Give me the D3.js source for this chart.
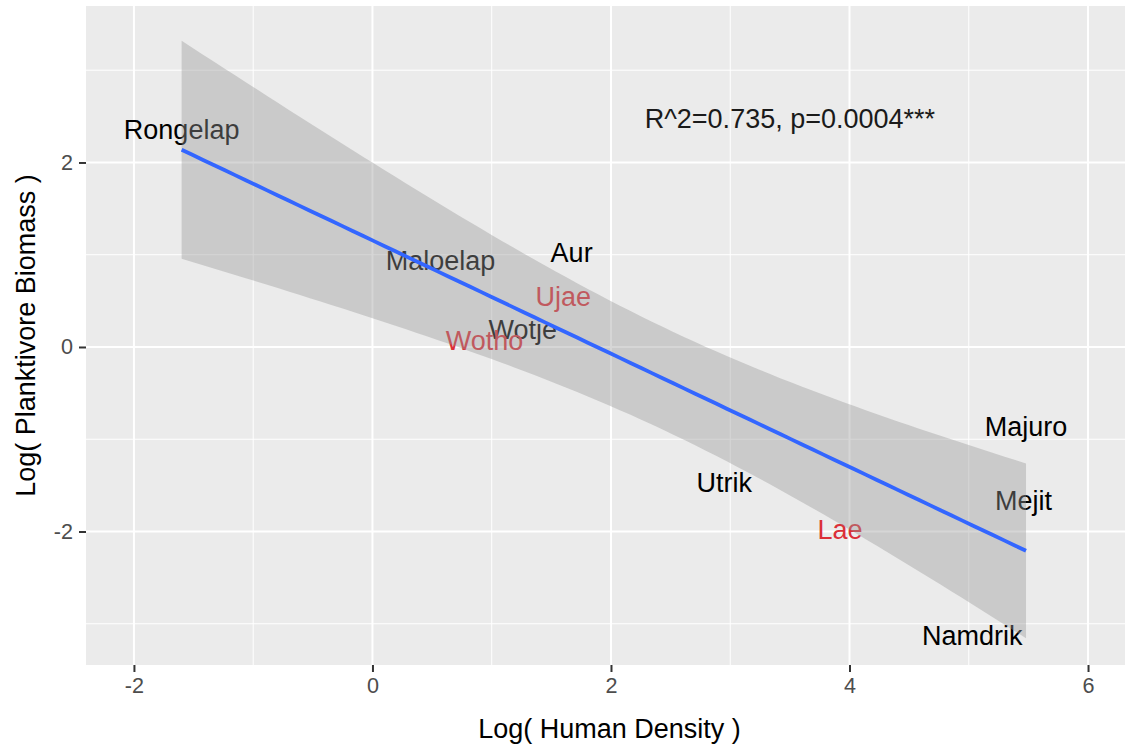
<!DOCTYPE html>
<html>
<head>
<meta charset="utf-8">
<script src="https://cdn.jsdelivr.net/npm/d3@7"></script>
<style>
  html, body { margin: 0; padding: 0; background: #fff; }
  svg { display: block; font-family: "Liberation Sans", Arial, sans-serif; }
</style>
</head>
<body>
<svg id="chart" width="1127" height="748"></svg>
<script>
// ---- data ----
const atolls   = ["Rongelap","Maloelap","Aur","Ujae","Wotje","Wotho","Majuro","Mejit","Utrik","Lae","Namdrik"];
const humanDen = [-1.60, 0.57, 1.67, 1.60, 1.26, 0.94, 5.48, 5.46, 2.95, 3.92, 5.03];
const biomass  = [ 2.35, 0.93, 1.02, 0.54, 0.18, 0.06, -0.87, -1.67, -1.47, -1.98, -3.13];
const labelGroup = ["black","black","black","red","black","red","black","black","black","red","black"];
const xTicks = [-2, 0, 2, 4, 6];
const yTicks = [-2, 0, 2];
const xMinor = [-1, 1, 3, 5];
const yMinor = [-3, -1, 1, 3];
const statText = "R^2=0.735, p=0.0004***";
const statPos = [3.5, 2.47];
const tCrit = 2.262; // t(0.975, df = 9)

// ---- layout ----
const svg = d3.select("#chart");
const P = {left: 86, right: 1125, top: 6, bottom: 665};
const x = d3.scaleLinear().domain([-2.402, 6.31]).range([P.left, P.right]);
const y = d3.scaleLinear().domain([-3.447, 3.696]).range([P.bottom, P.top]);
const colorMap = {black: "#000000", red: "#DB2F38"};

// panel background
svg.append("rect").attr("x", P.left).attr("y", P.top)
  .attr("width", P.right - P.left).attr("height", P.bottom - P.top)
  .attr("fill", "#EBEBEB");

const grid = svg.append("g");
grid.selectAll(".xmin").data(xMinor).join("line")
  .attr("x1", d => x(d)).attr("x2", d => x(d)).attr("y1", P.top).attr("y2", P.bottom)
  .attr("stroke", "#fff").attr("stroke-width", 1);
grid.selectAll(".ymin").data(yMinor).join("line")
  .attr("y1", d => y(d)).attr("y2", d => y(d)).attr("x1", P.left).attr("x2", P.right)
  .attr("stroke", "#fff").attr("stroke-width", 1);
grid.selectAll(".xmaj").data(xTicks).join("line")
  .attr("x1", d => x(d)).attr("x2", d => x(d)).attr("y1", P.top).attr("y2", P.bottom)
  .attr("stroke", "#fff").attr("stroke-width", 2);
grid.selectAll(".ymaj").data(yTicks).join("line")
  .attr("y1", d => y(d)).attr("y2", d => y(d)).attr("x1", P.left).attr("x2", P.right)
  .attr("stroke", "#fff").attr("stroke-width", 2);

// text labels (drawn under the smooth, as in ggplot layer order)
const pts = atolls.map((n, i) => ({name: n, x: humanDen[i], y: biomass[i], g: labelGroup[i]}));
svg.append("g").selectAll("text").data(pts).join("text")
  .attr("x", d => x(d.x)).attr("y", d => y(d.y))
  .attr("text-anchor", "middle").attr("dominant-baseline", "central")
  .attr("font-size", 27).attr("fill", d => colorMap[d.g])
  .text(d => d.name);

// linear fit + 95% confidence band
const n = pts.length;
const mx = d3.mean(pts, d => d.x), my = d3.mean(pts, d => d.y);
const sxx = d3.sum(pts, d => (d.x - mx) ** 2);
const sxy = d3.sum(pts, d => (d.x - mx) * (d.y - my));
const b1 = sxy / sxx, b0 = my - b1 * mx;
const sse = d3.sum(pts, d => (d.y - (b0 + b1 * d.x)) ** 2);
const s = Math.sqrt(sse / (n - 2));
const [xmin, xmax] = d3.extent(pts, d => d.x);
const grd = d3.range(80).map(i => xmin + (xmax - xmin) * i / 79);
const fit = grd.map(xv => {
  const yh = b0 + b1 * xv;
  const se = s * Math.sqrt(1 / n + (xv - mx) ** 2 / sxx);
  return {x: xv, y: yh, lo: yh - tCrit * se, hi: yh + tCrit * se};
});

svg.append("path").datum(fit)
  .attr("d", d3.area().x(d => x(d.x)).y0(d => y(d.lo)).y1(d => y(d.hi)))
  .attr("fill", "#999999").attr("fill-opacity", 0.4);
svg.append("path").datum(fit)
  .attr("d", d3.line().x(d => x(d.x)).y(d => y(d.y)))
  .attr("fill", "none").attr("stroke", "#3366FF").attr("stroke-width", 3.8);

// annotation
svg.append("text").attr("x", x(statPos[0])).attr("y", y(statPos[1]))
  .attr("text-anchor", "middle").attr("dominant-baseline", "central")
  .attr("font-size", 27).attr("fill", "#1a1a1a").text(statText);

// axes
const xAxis = svg.append("g").attr("transform", `translate(0,${P.bottom})`)
  .call(d3.axisBottom(x).tickValues(xTicks).tickSize(7).tickPadding(6).tickFormat(d3.format("d")));
const yAxis = svg.append("g").attr("transform", `translate(${P.left},0)`)
  .call(d3.axisLeft(y).tickValues(yTicks).tickSize(7).tickPadding(6).tickFormat(d3.format("d")));
[xAxis, yAxis].forEach(a => {
  a.select(".domain").remove();
  a.selectAll(".tick line").attr("stroke", "#333333").attr("stroke-width", 2);
  a.selectAll(".tick text").attr("fill", "#4D4D4D").attr("font-size", 21.6)
    .attr("font-family", "'Liberation Sans', Arial, sans-serif");
});
// R prints hyphen-minus
xAxis.selectAll(".tick text").text(d => String(d));
yAxis.selectAll(".tick text").text(d => String(d));

// axis titles
svg.append("text").attr("x", (P.left + P.right) / 2 + 4).attr("y", 738)
  .attr("text-anchor", "middle").attr("font-size", 27).attr("fill", "#000")
  .text("Log( Human Density )");
svg.append("text").attr("transform", `translate(35,${(P.top + P.bottom) / 2}) rotate(-90)`)
  .attr("text-anchor", "middle").attr("font-size", 27).attr("fill", "#000")
  .text("Log( Planktivore Biomass )");
</script>
</body>
</html>
